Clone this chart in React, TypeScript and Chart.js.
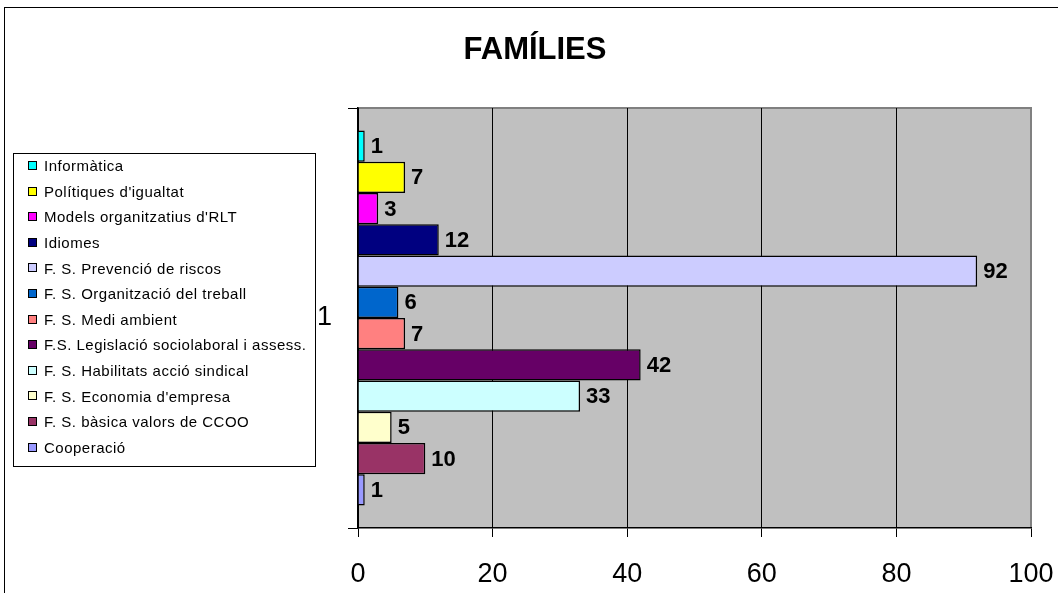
import React, { useEffect, useRef } from "react";
import { Chart, registerables } from "chart.js";

Chart.register(...registerables);

const chartTitle = "FAMÍLIES";
const categories = ["1"];
const seriesNames = [
  "Informàtica",
  "Polítiques d'igualtat",
  "Models organitzatius d'RLT",
  "Idiomes",
  "F. S. Prevenció de riscos",
  "F. S. Organització del treball",
  "F. S. Medi ambient",
  "F.S. Legislació sociolaboral i assess.",
  "F. S. Habilitats acció sindical",
  "F. S. Economia d'empresa",
  "F. S. bàsica valors de CCOO",
  "Cooperació",
];
const seriesValues = [1, 7, 3, 12, 92, 6, 7, 42, 33, 5, 10, 1];
const seriesColors = [
  "#00FFFF",
  "#FFFF00",
  "#FF00FF",
  "#000080",
  "#CCCCFF",
  "#0066CC",
  "#FF8080",
  "#660066",
  "#CCFFFF",
  "#FFFFCC",
  "#993366",
  "#9999FF",
];
const xMin = 0;
const xMax = 100;
const xStep = 20;

const FONT = "'Liberation Sans', Arial, sans-serif";

const framePlugin = {
  id: "frame",
  beforeDraw(chart: any) {
    const { ctx, chartArea } = chart;
    const { left, top, right, bottom } = chartArea;
    ctx.save();
    ctx.fillStyle = "#FFFFFF";
    ctx.fillRect(0, 0, chart.width, chart.height);
    // outer border
    ctx.strokeStyle = "#000000";
    ctx.lineWidth = 1;
    ctx.strokeRect(4.5, 7.5, chart.width + 50, chart.height + 50);
    // plot background
    ctx.fillStyle = "#C0C0C0";
    ctx.fillRect(left, top, right - left, bottom - top);
    ctx.strokeStyle = "#808080";
    ctx.lineWidth = 2;
    ctx.beginPath();
    ctx.moveTo(left, top);
    ctx.lineTo(right, top);
    ctx.lineTo(right, bottom);
    ctx.stroke();
    // title
    ctx.fillStyle = "#000000";
    ctx.font = `bold 31px ${FONT}`;
    ctx.textAlign = "center";
    ctx.textBaseline = "alphabetic";
    ctx.fillText(chartTitle, 535, 59);
    ctx.restore();
  },
  afterDraw(chart: any) {
    const { ctx } = chart;
    ctx.save();
    // legend box
    const bx = 13.5, by = 153.5, bw = 302, bh = 313;
    ctx.fillStyle = "#FFFFFF";
    ctx.fillRect(bx, by, bw, bh);
    ctx.strokeStyle = "#000000";
    ctx.lineWidth = 1;
    ctx.strokeRect(bx, by, bw, bh);
    ctx.font = `15px ${FONT}`;
    try {
      (ctx as any).letterSpacing = "0.5px";
    } catch (e) {}
    ctx.textAlign = "left";
    ctx.textBaseline = "middle";
    chart.data.datasets.forEach((ds: any, i: number) => {
      const cy = 166 + i * 25.6;
      ctx.fillStyle = ds.backgroundColor;
      ctx.fillRect(28.5, Math.round(cy) - 4.5, 8, 8);
      ctx.strokeStyle = "#000000";
      ctx.strokeRect(28.5, Math.round(cy) - 4.5, 8, 8);
      ctx.fillStyle = "#000000";
      ctx.fillText(ds.label, 44, cy + 1);
    });
    ctx.restore();
  },
};

const valueLabelPlugin = {
  id: "valueLabels",
  afterDatasetsDraw(chart: any) {
    const { ctx } = chart;
    ctx.save();
    ctx.font = `bold 22px ${FONT}`;
    ctx.fillStyle = "#000000";
    ctx.textAlign = "left";
    ctx.textBaseline = "middle";
    chart.data.datasets.forEach((ds: any, i: number) => {
      const meta = chart.getDatasetMeta(i);
      meta.data.forEach((bar: any, j: number) => {
        ctx.fillText(String(ds.data[j]), bar.x + 6, bar.y + 1);
      });
    });
    ctx.restore();
  },
};

export default function App() {
  const canvasRef = useRef<HTMLCanvasElement | null>(null);

  useEffect(() => {
    const canvas = canvasRef.current;
    if (!canvas) return;
    const chart = new Chart(canvas, {
      type: "bar",
      data: {
        labels: categories,
        datasets: seriesNames.map((name, i) => ({
          label: name,
          data: [seriesValues[i]],
          backgroundColor: seriesColors[i],
          borderColor: "#000000",
          borderWidth: 1.5,
          categoryPercentage: 0.893,
          barPercentage: 1,
        })),
      },
      options: {
        indexAxis: "y",
        responsive: false,
        animation: false,
        devicePixelRatio: 1,
        layout: { padding: { left: 0, top: 108, right: 27, bottom: 0 } },
        plugins: {
          legend: { display: false },
          title: { display: false },
          tooltip: { enabled: false },
        },
        scales: {
          x: {
            type: "linear",
            min: xMin,
            max: xMax,
            ticks: {
              stepSize: xStep,
              color: "#000000",
              font: { family: FONT, size: 27 },
              padding: 21,
            },
            grid: {
              color: (c: any) => (c.tick && c.tick.value === xMax ? "#808080" : "#000000"),
              lineWidth: 1,
              tickColor: "#000000",
              tickLength: 9,
              drawTicks: true,
            },
            border: { display: true, color: "#000000", width: 1.5 },
            afterFit(scale: any) {
              scale.height = 65;
              scale.paddingLeft = 0;
              scale.paddingRight = 0;
            },
          },
          y: {
            ticks: {
              color: "#000000",
              font: { family: FONT, size: 27 },
              padding: 16,
            },
            grid: {
              drawOnChartArea: false,
              drawTicks: true,
              tickLength: 10,
              color: "#000000",
            },
            border: { display: true, color: "#000000", width: 1.5 },
            afterFit(scale: any) {
              scale.width = 358;
              scale.paddingTop = 0;
              scale.paddingBottom = 0;
            },
          },
        },
      },
      plugins: [framePlugin, valueLabelPlugin],
    } as any);
    return () => chart.destroy();
  }, []);

  return (
    <div style={{ position: "absolute", left: 0, top: 0, width: 1058, height: 593 }}>
      <canvas ref={canvasRef} width={1058} height={593} style={{ display: "block" }} />
    </div>
  );
}
